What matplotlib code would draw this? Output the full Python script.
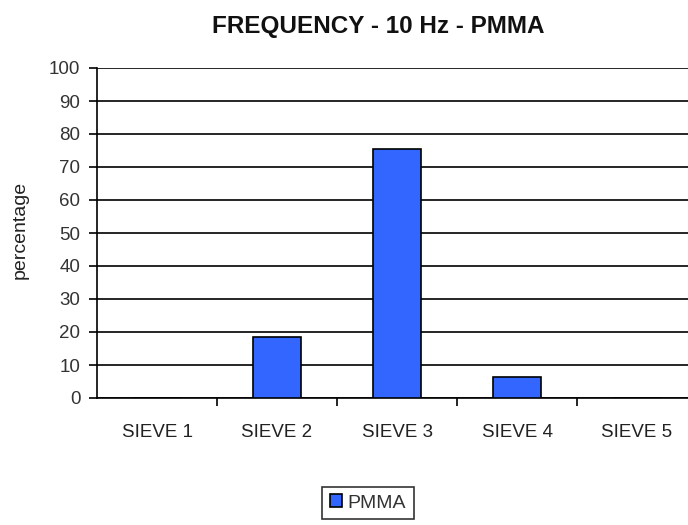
import matplotlib
matplotlib.use("Agg")
import matplotlib.pyplot as plt
from matplotlib.ticker import FixedLocator

plt.rcParams['font.family'] = ['Liberation Sans', 'DejaVu Sans']

categories = ["SIEVE 1", "SIEVE 2", "SIEVE 3", "SIEVE 4", "SIEVE 5"]
pmma = [0, 18.5, 75.5, 6.3, 0]
yticks = list(range(0, 101, 10))

fig = plt.figure(figsize=(6.88, 5.25), dpi=100)
ax = fig.add_axes([97/688, 1-398/525, 600/688, 330/525])

x = list(range(len(categories)))
ax.bar(x, pmma, width=0.4, color="#3366FF", edgecolor="black", linewidth=1.2,
       label="PMMA", zorder=3)

ax.set_xlim(-0.5, len(categories) - 0.5)
ax.set_ylim(0, 100)
ax.set_yticks(yticks)
ax.set_xticks(x)
ax.set_xticklabels(categories, fontsize=13.5, color="#222222")
ax.tick_params(axis='x', length=0, pad=19)
ax.xaxis.set_minor_locator(FixedLocator([i + 0.5 for i in range(len(categories) - 1)]))
ax.tick_params(axis='x', which='minor', length=6, width=1.2, direction='out', color='black')
ax.tick_params(axis='y', length=6, width=1.2, direction='out', labelsize=13.5, pad=6, labelcolor="#333333")
ax.yaxis.grid(True, color="black", linewidth=1.2, zorder=0)
ax.set_axisbelow(True)

for s in ["top", "right"]:
    ax.spines[s].set_visible(False)
ax.spines["left"].set_linewidth(1.2)
ax.spines["bottom"].set_linewidth(1.2)

fig.text(20/688, 1-230/525, "percentage", rotation=90, fontsize=14,
         ha="center", va="center", color="#222222")
fig.text(378/688, 1-27/525, "FREQUENCY - 10 Hz - PMMA", fontsize=17.5,
         fontweight="bold", ha="center", va="center", color="#111111")

leg = fig.legend(loc="center", bbox_to_anchor=(368/688, 1-503/525), fontsize=14,
                 frameon=True, fancybox=False, edgecolor="black",
                 handlelength=0.6, handleheight=0.6, handletextpad=0.3,
                 borderpad=0.4, borderaxespad=0)
leg.get_frame().set_linewidth(1.2)
for t in leg.get_texts():
    t.set_color("#333333")

fig.savefig("out.png", dpi=100)
